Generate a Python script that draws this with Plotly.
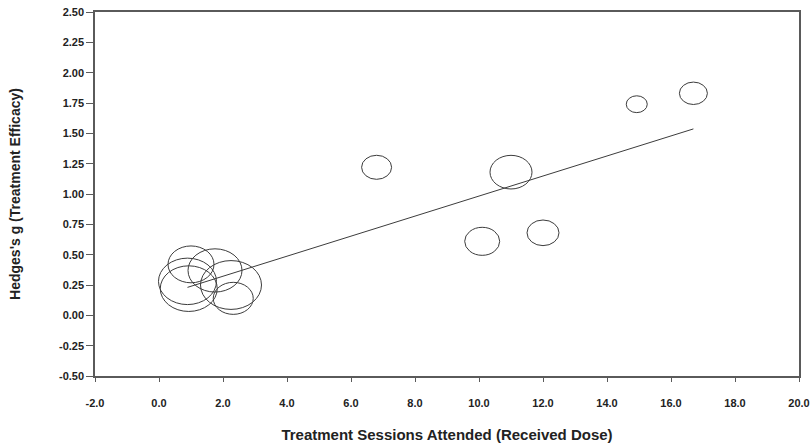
import plotly.graph_objects as go

# Study-level effect sizes: received dose (sessions) vs Hedges's g
sessions = [0.89, 0.93, 1.00, 1.75, 2.25, 2.32, 6.80, 10.10, 11.00, 12.00, 14.93, 16.70]
hedges_g = [0.28, 0.22, 0.42, 0.37, 0.25, 0.14, 1.22, 0.61, 1.18, 0.68, 1.74, 1.83]
# relative study weights (bubble size)
weight = [5.8, 5.7, 4.6, 5.4, 6.1, 4.0, 3.0, 3.5, 4.2, 3.2, 2.1, 2.8]

# meta-regression fit: g = intercept + slope * sessions
intercept = 0.157
slope = 0.0826

x_ticks = [-2.0, 0.0, 2.0, 4.0, 6.0, 8.0, 10.0, 12.0, 14.0, 16.0, 18.0, 20.0]
y_ticks = [-0.50, -0.25, 0.00, 0.25, 0.50, 0.75, 1.00, 1.25, 1.50, 1.75, 2.00, 2.25, 2.50]
x_labels = [f"{v:.1f}" for v in x_ticks]
y_labels = [f"{v:.2f}" for v in y_ticks]

# bubble extent in data units per unit of weight
X_DIAM_PER_WEIGHT = 0.3125
Y_DIAM_PER_WEIGHT = 0.066

FONT = "Liberation Sans, Arial, sans-serif"
AXIS_COLOR = "#5a5a5a"
MARK_COLOR = "#3c3c3c"
TEXT_COLOR = "#222222"

fig = go.Figure()

x_lo, x_hi = min(sessions), max(sessions)
fig.add_trace(go.Scatter(
    x=[x_lo, x_hi],
    y=[intercept + slope * x_lo, intercept + slope * x_hi],
    mode="lines",
    line=dict(color=MARK_COLOR, width=1),
    showlegend=False,
    hoverinfo="skip",
))

# invisible points for hover on study centres
fig.add_trace(go.Scatter(
    x=sessions, y=hedges_g, mode="markers",
    marker=dict(size=1, opacity=0),
    showlegend=False,
))

shapes = []
for xv, gv, w in zip(sessions, hedges_g, weight):
    rx = w * X_DIAM_PER_WEIGHT / 2
    ry = w * Y_DIAM_PER_WEIGHT / 2
    shapes.append(dict(
        type="circle", xref="x", yref="y",
        x0=xv - rx, x1=xv + rx, y0=gv - ry, y1=gv + ry,
        line=dict(color=MARK_COLOR, width=1),
        fillcolor="rgba(0,0,0,0)",
    ))

fig.update_layout(
    width=811, height=446,
    margin=dict(l=95, r=12, t=12, b=70),
    paper_bgcolor="white", plot_bgcolor="white",
    shapes=shapes,
    font=dict(family=FONT, color=TEXT_COLOR),
    xaxis=dict(
        range=[-2, 20], automargin=False,
        tickmode="array", tickvals=x_ticks, ticktext=x_labels,
        ticks="outside", ticklen=4, tickwidth=1, tickcolor=AXIS_COLOR,
        ticklabelstandoff=12,
        tickfont=dict(size=11, family=FONT, weight="bold", color=TEXT_COLOR),
        showline=True, linecolor=AXIS_COLOR, linewidth=1.5, mirror=True,
        showgrid=False, zeroline=False,
        title=dict(text="Treatment Sessions Attended (Received Dose)",
                   font=dict(size=15, family=FONT, weight="bold", color=TEXT_COLOR),
                   standoff=22),
    ),
    yaxis=dict(
        range=[-0.5, 2.5], automargin=False,
        tickmode="array", tickvals=y_ticks, ticktext=y_labels,
        ticks="outside", ticklen=7, tickwidth=1, tickcolor=AXIS_COLOR,
        tickfont=dict(size=11, family=FONT, weight="bold", color=TEXT_COLOR),
        showline=True, linecolor=AXIS_COLOR, linewidth=1.5, mirror=True,
        showgrid=False, zeroline=False,
        title=dict(text="Hedges's g (Treatment Efficacy)",
                   font=dict(size=14, family=FONT, weight="bold", color=TEXT_COLOR),
                   standoff=35),
    ),
)

fig.write_html("out.html")
